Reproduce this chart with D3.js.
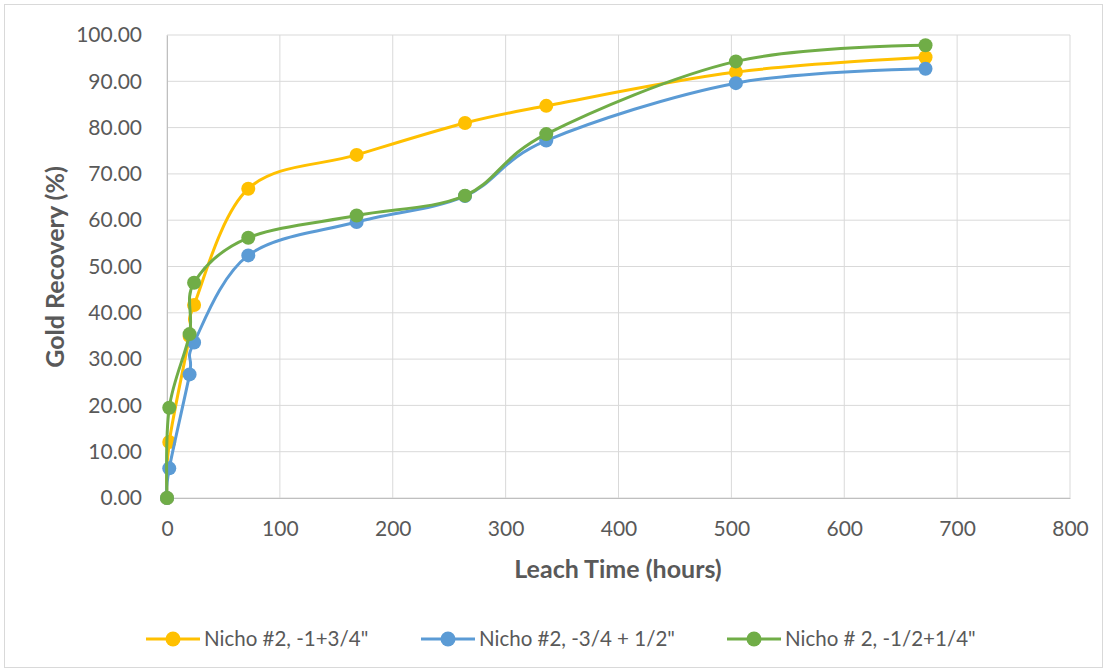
<!DOCTYPE html>
<html><head><meta charset="utf-8">
<script src="https://cdn.jsdelivr.net/npm/d3@7"></script>
<style>body{margin:0;background:#fff;} text{font-family:Lato,"Open Sans",sans-serif;}</style>
</head><body><svg id="c" width="1107" height="672"></svg>
<script>
const hours = [0, 2, 20, 24, 72, 168, 264, 336, 504, 672];
const seriesNames = ['Nicho #2, -1+3/4"', 'Nicho #2, -3/4 + 1/2"', 'Nicho # 2, -1/2+1/4"'];
const yellowValues = [0, 12.1, 35.0, 41.7, 66.8, 74.1, 81.0, 84.7, 92.0, 95.2];
const blueValues = [0, 6.4, 26.7, 33.6, 52.4, 59.6, 65.2, 77.2, 89.6, 92.7];
const greenValues = [0, 19.5, 35.4, 46.5, 56.2, 61.0, 65.3, 78.6, 94.3, 97.8];
const colors = ["#FFC000", "#5B9BD5", "#70AD47"];
const xTicks = [0, 100, 200, 300, 400, 500, 600, 700, 800];
const yTicks = [0, 10, 20, 30, 40, 50, 60, 70, 80, 90, 100];

const svg = d3.select("#c");
svg.append("rect").attr("x",4.5).attr("y",4.5).attr("width",1098).attr("height",663)
  .attr("fill","#fff").attr("stroke","#d9d9d9");
const x = d3.scaleLinear().domain([0,800]).range([167,1070]);
const y = d3.scaleLinear().domain([0,100]).range([498,35]);

const g = svg.append("g");
g.selectAll(".hg").data(yTicks).join("line").attr("x1",x(0)).attr("x2",x(800))
  .attr("y1",d=>y(d)).attr("y2",d=>y(d)).attr("stroke","#d9d9d9").attr("stroke-width",1);
g.selectAll(".vg").data(xTicks).join("line").attr("y1",y(0)).attr("y2",y(100))
  .attr("x1",d=>x(d)).attr("x2",d=>x(d)).attr("stroke","#d9d9d9").attr("stroke-width",1);

const xa = svg.append("g").attr("transform",`translate(0,${y(0)})`)
  .call(d3.axisBottom(x).tickValues(xTicks).tickSize(0).tickPadding(23).tickFormat(d3.format("d")));
xa.select(".domain").attr("stroke","#bfbfbf");
xa.selectAll("text").attr("font-size",21).attr("fill","#595959");
const ya = svg.append("g").attr("transform",`translate(${x(0)},0)`)
  .call(d3.axisLeft(y).tickValues(yTicks).tickSize(0).tickPadding(25).tickFormat(d3.format(".2f")));
ya.select(".domain").attr("stroke","#bfbfbf");
ya.selectAll("text").attr("font-size",21).attr("fill","#595959");

svg.append("text").attr("x",618).attr("y",578).attr("text-anchor","middle")
  .attr("font-size",25).attr("font-weight","bold").attr("fill","#595959").text("Leach Time (hours)");
svg.append("text").attr("transform",`translate(64,267) rotate(-90)`).attr("text-anchor","middle")
  .attr("font-size",25).attr("font-weight","bold").attr("fill","#595959").text("Gold Recovery (%)");

const all = [yellowValues, blueValues, greenValues];
const line = d3.line().x(d=>x(d[0])).y(d=>y(d[1])).curve(d3.curveCatmullRom.alpha(0));
all.forEach((vals,i)=>{
  const pts = hours.map((h,j)=>[h,vals[j]]);
  svg.append("path").attr("d",line(pts)).attr("fill","none").attr("stroke",colors[i]).attr("stroke-width",3);
  svg.selectAll(null).data(pts).join("circle").attr("cx",d=>x(d[0])).attr("cy",d=>y(d[1]))
    .attr("r",7).attr("fill",colors[i]);
});

const legX = [146, 421, 727];
seriesNames.forEach((n,i)=>{
  const lg = svg.append("g").attr("transform",`translate(${legX[i]},639)`);
  lg.append("line").attr("x1",0).attr("x2",54).attr("stroke",colors[i]).attr("stroke-width",3);
  lg.append("circle").attr("cx",27).attr("r",7.5).attr("fill",colors[i]);
  lg.append("text").attr("x",58).attr("y",7).attr("font-size",20.5).attr("fill","#595959").text(n);
});
</script></body></html>
